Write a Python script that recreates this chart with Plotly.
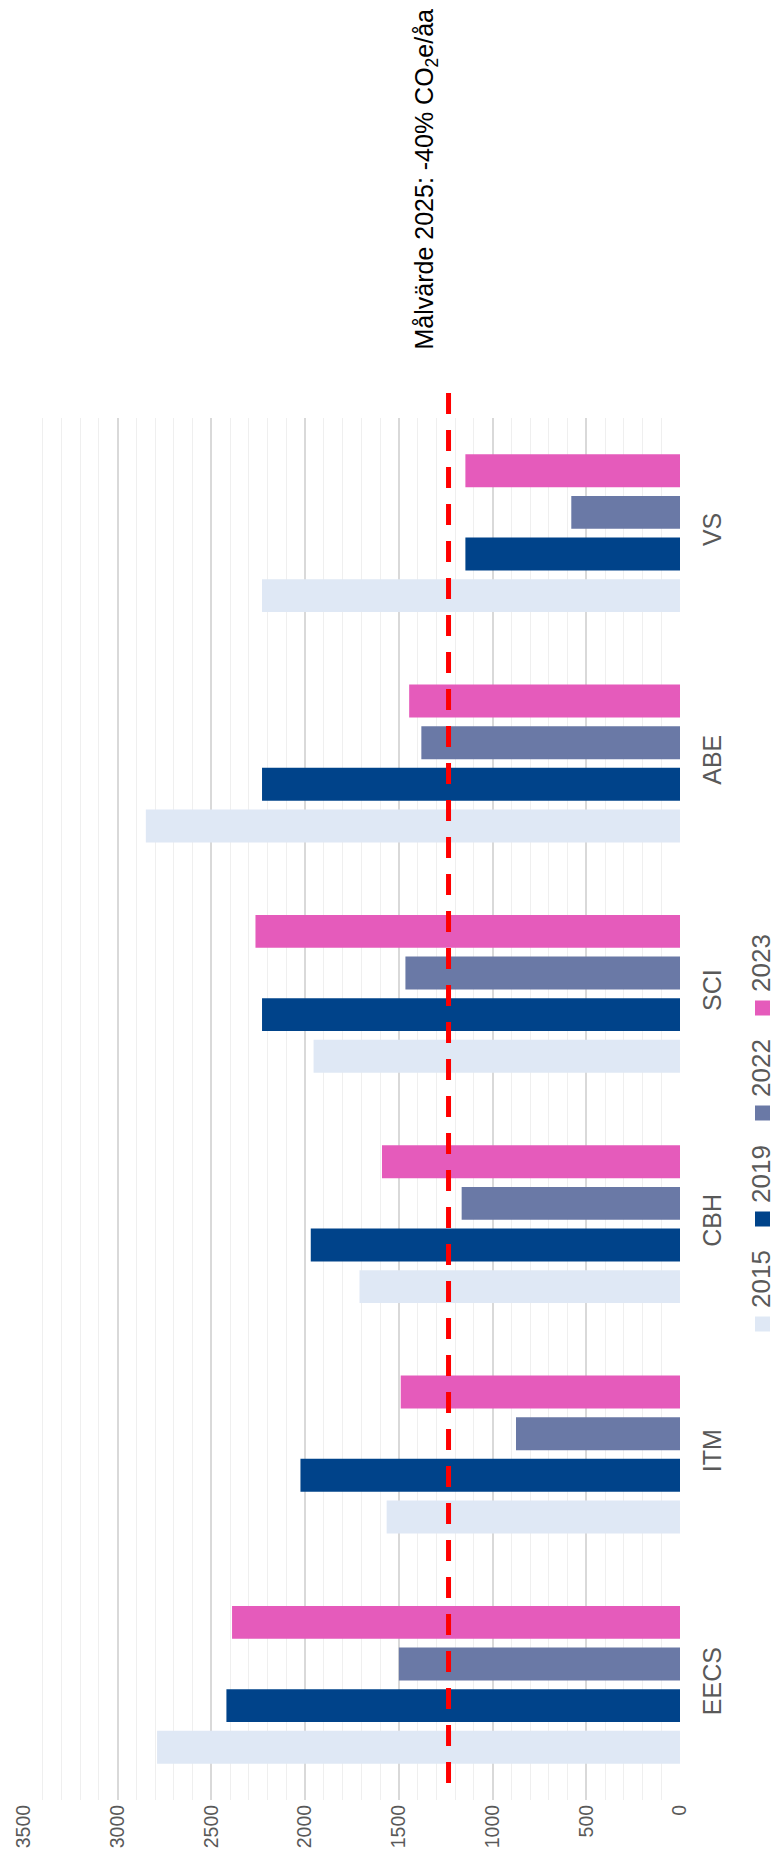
import plotly.graph_objects as go

# Emissions per unit (kg CO2e per full-time employee) by school and year
schools = ["EECS", "ITM", "CBH", "SCI", "ABE", "VS"]
years = ["2015", "2019", "2022", "2023"]
v2015 = [2790, 1565, 1710, 1955, 2850, 2230]
v2019 = [2420, 2025, 1970, 2230, 2230, 1145]
v2022 = [1500, 875, 1165, 1465, 1380, 580]
v2023 = [2390, 1490, 1590, 2265, 1445, 1145]
target_2025 = 1235
target_label = "Målvärde 2025: -40% CO<sub>2</sub>e/åa"
value_ticks = [0, 500, 1000, 1500, 2000, 2500, 3000, 3500]

colors = ["#DFE8F5", "#00438A", "#6A79A6", "#E55BBB"]
series = [v2015, v2019, v2022, v2023]

W, H = 774, 1876
ML, MR, MT, MB = 24, 94, 418, 76
PW, PH = W - ML - MR, H - MT - MB
FONT = "Liberation Sans, Arial, sans-serif"
GREY_TXT = "#595959"


def px_x(px):
    return (px - ML) / PW


def px_y(py):
    return (H - MB - py) / PH


fig = go.Figure()
for yr, vals, col in zip(years, series, colors):
    fig.add_trace(go.Bar(
        y=schools, x=vals, name=yr, orientation="h",
        marker=dict(color=col, line=dict(width=0)),
        showlegend=False,
    ))

shapes = []
annotations = []

# Target line
shapes.append(dict(
    type="line", xref="x", yref="paper",
    x0=target_2025, x1=target_2025, y0=px_y(393), y1=px_y(1797),
    line=dict(color="#FF0000", width=5, dash="21px,16px"),
    layer="above",
))
annotations.append(dict(
    text=target_label, xref="paper", yref="paper",
    x=px_x(425), y=px_y(352), xanchor="center", yanchor="bottom",
    textangle=-90, showarrow=False,
    font=dict(family=FONT, size=25, color="#000000"),
))

# Legend drawn vertically (swatch below rotated label)
leg_centers = [1324, 1219, 1113, 1008]
for yr, col, cy in zip(years, colors, leg_centers):
    shapes.append(dict(
        type="rect", xref="paper", yref="paper",
        x0=px_x(755), x1=px_x(770), y0=px_y(cy + 7.5), y1=px_y(cy - 7.5),
        fillcolor=col, line=dict(width=0),
    ))
    annotations.append(dict(
        text=yr, xref="paper", yref="paper",
        x=px_x(761), y=px_y(cy - 14), xanchor="center", yanchor="bottom",
        textangle=-90, showarrow=False,
        font=dict(family=FONT, size=26, color=GREY_TXT),
    ))

fig.update_layout(
    width=W, height=H,
    margin=dict(l=ML, r=MR, t=MT, b=MB, autoexpand=False),
    paper_bgcolor="white", plot_bgcolor="white",
    barmode="group", bargap=0.277, bargroupgap=0.21,
    shapes=shapes, annotations=annotations,
    showlegend=False,
)
fig.update_xaxes(
    range=[3500, 0], tickvals=value_ticks, ticktext=[str(v) for v in value_ticks],
    tickangle=-90, tickfont=dict(family=FONT, size=19.5, color=GREY_TXT),
    showgrid=True, gridcolor="#D9D9D9", gridwidth=1.5,
    minor=dict(dtick=100, showgrid=True, gridcolor="#EFEFEF", gridwidth=1),
    zeroline=False, showline=False, ticks="",
)
fig.update_yaxes(
    side="right", tickangle=-90, ticks="", ticklabelstandoff=15,
    tickfont=dict(family=FONT, size=25, color=GREY_TXT),
    showgrid=False, zeroline=False, showline=False,
)

fig.write_html("out.html")
